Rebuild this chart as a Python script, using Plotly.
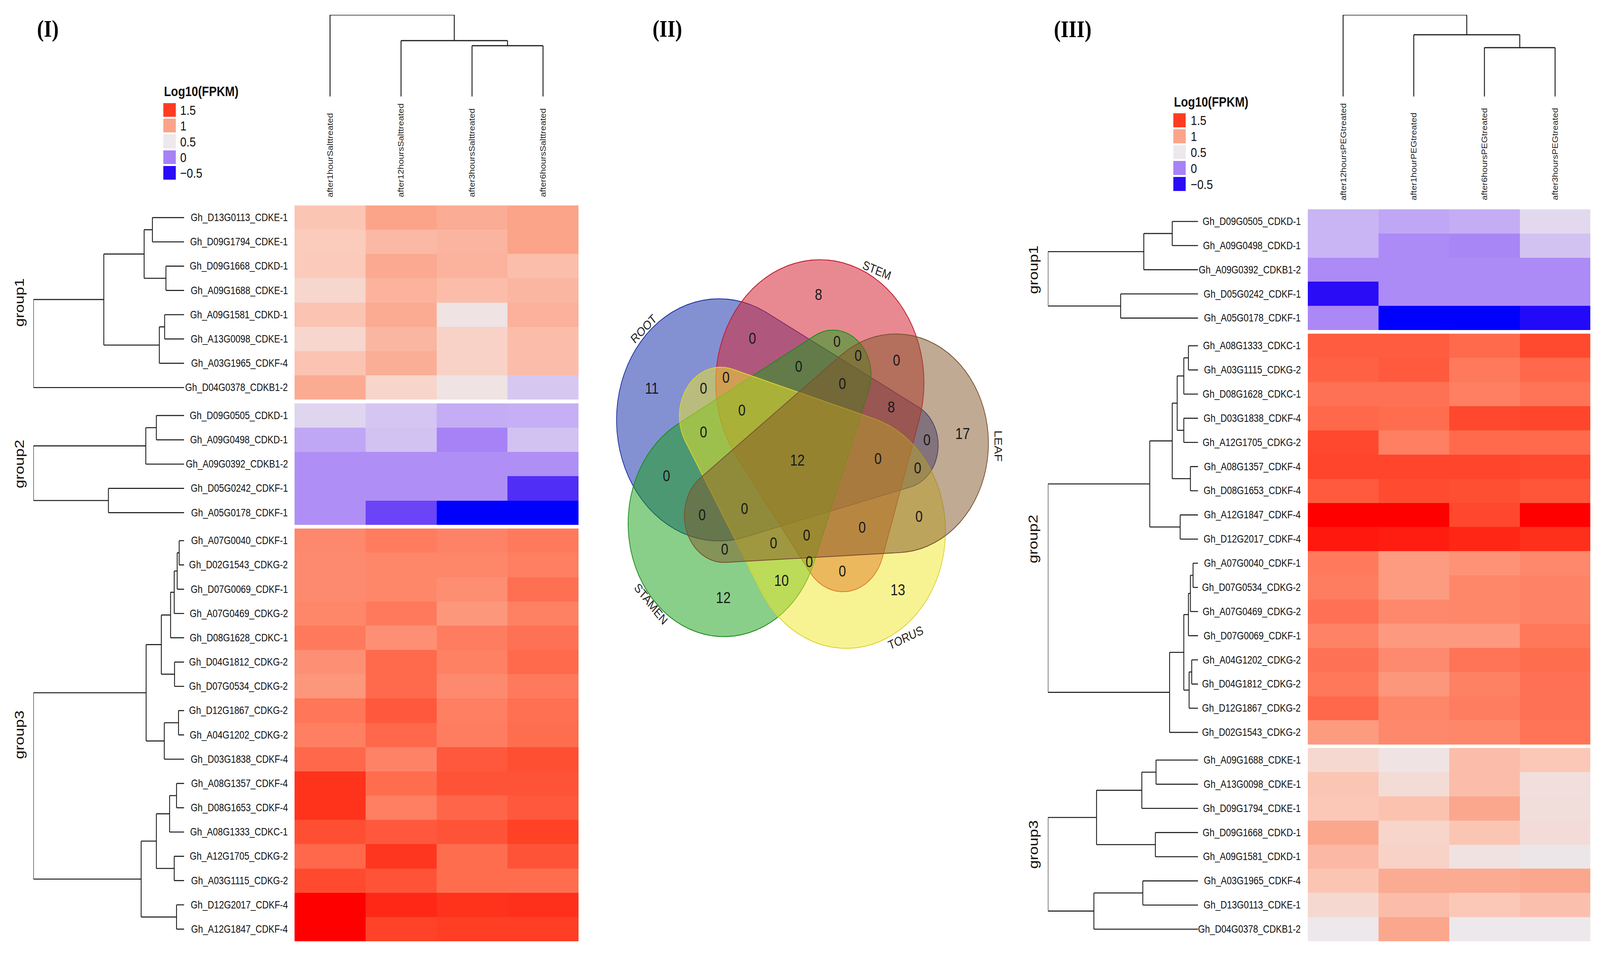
import numpy as np
import plotly.graph_objects as go

W, H = 4840, 2440

# ======================= DATA =======================
salt_columns = ["after1hourSalttreated", "after12hoursSalttreated",
                "after3hoursSalttreated", "after6hoursSalttreated"]
salt_genes_g1 = ["Gh_D13G0113_CDKE-1", "Gh_D09G1794_CDKE-1", "Gh_D09G1668_CDKD-1",
                 "Gh_A09G1688_CDKE-1", "Gh_A09G1581_CDKD-1", "Gh_A13G0098_CDKE-1",
                 "Gh_A03G1965_CDKF-4", "Gh_D04G0378_CDKB1-2"]
salt_genes_g2 = ["Gh_D09G0505_CDKD-1", "Gh_A09G0498_CDKD-1", "Gh_A09G0392_CDKB1-2",
                 "Gh_D05G0242_CDKF-1", "Gh_A05G0178_CDKF-1"]
salt_genes_g3 = ["Gh_A07G0040_CDKF-1", "Gh_D02G1543_CDKG-2", "Gh_D07G0069_CDKF-1",
                 "Gh_A07G0469_CDKG-2", "Gh_D08G1628_CDKC-1", "Gh_D04G1812_CDKG-2",
                 "Gh_D07G0534_CDKG-2", "Gh_D12G1867_CDKG-2", "Gh_A04G1202_CDKG-2",
                 "Gh_D03G1838_CDKF-4", "Gh_A08G1357_CDKF-4", "Gh_D08G1653_CDKF-4",
                 "Gh_A08G1333_CDKC-1", "Gh_A12G1705_CDKG-2", "Gh_A03G1115_CDKG-2",
                 "Gh_D12G2017_CDKF-4", "Gh_A12G1847_CDKF-4"]
salt_values_g1 = [[0.80, 1.00, 0.95, 1.00], [0.76, 0.87, 0.90, 1.00], [0.77, 0.97, 0.91, 0.84],
                  [0.67, 0.91, 0.85, 0.89], [0.81, 0.96, 0.55, 0.92], [0.67, 0.89, 0.70, 0.85],
                  [0.81, 0.94, 0.70, 0.85], [0.96, 0.68, 0.55, 0.33]]
salt_values_g2 = [[0.40, 0.32, 0.20, 0.21], [0.17, 0.30, 0.00, 0.30], [0.06, 0.06, 0.06, 0.06],
                  [0.06, 0.06, 0.06, -0.35], [0.06, -0.25, -0.60, -0.60]]
salt_values_g3 = [[1.15, 1.22, 1.18, 1.23], [1.14, 1.16, 1.16, 1.20], [1.14, 1.16, 1.12, 1.28],
                  [1.16, 1.23, 1.07, 1.19], [1.23, 1.11, 1.21, 1.27], [1.11, 1.30, 1.19, 1.30],
                  [1.07, 1.30, 1.14, 1.23], [1.25, 1.38, 1.20, 1.28], [1.20, 1.31, 1.21, 1.29],
                  [1.31, 1.18, 1.38, 1.42], [1.55, 1.29, 1.40, 1.40], [1.55, 1.20, 1.32, 1.38],
                  [1.42, 1.38, 1.40, 1.48], [1.31, 1.53, 1.29, 1.40], [1.44, 1.40, 1.29, 1.29],
                  [1.80, 1.60, 1.55, 1.56], [1.80, 1.47, 1.49, 1.49]]
# dendrogram merge heights: [height, left, right]; leaves = row index within group
salt_tree_g1 = [456, [243, [121, [96, 0, 1], [55, 2, 3]], [75, [59, 4, 5], 6]], 7]
salt_tree_g2 = [456, [116, [84, 0, 1], 2], [229, 3, 4]]
salt_tree_g3 = [456, [115, [69, [41, [30, [21, [15, 0, 1], 2], 3], 4], [29, 5, 6]],
                      [60, [17, 7, 8], 9]],
                [130, [84, [44, [23, 10, 11], 12], [30, 13, 14]], [23, 15, 16]]]
salt_col_tree = [209, 0, [143, 1, [130, 2, 3]]]

peg_columns = ["after12hoursPEGtreated", "after1hourPEGtreated",
               "after6hoursPEGtreated", "after3hoursPEGtreated"]
peg_genes_g1 = ["Gh_D09G0505_CDKD-1", "Gh_A09G0498_CDKD-1", "Gh_A09G0392_CDKB1-2",
                "Gh_D05G0242_CDKF-1", "Gh_A05G0178_CDKF-1"]
peg_genes_g2 = ["Gh_A08G1333_CDKC-1", "Gh_A03G1115_CDKG-2", "Gh_D08G1628_CDKC-1",
                "Gh_D03G1838_CDKF-4", "Gh_A12G1705_CDKG-2", "Gh_A08G1357_CDKF-4",
                "Gh_D08G1653_CDKF-4", "Gh_A12G1847_CDKF-4", "Gh_D12G2017_CDKF-4",
                "Gh_A07G0040_CDKF-1", "Gh_D07G0534_CDKG-2", "Gh_A07G0469_CDKG-2",
                "Gh_D07G0069_CDKF-1", "Gh_A04G1202_CDKG-2", "Gh_D04G1812_CDKG-2",
                "Gh_D12G1867_CDKG-2", "Gh_D02G1543_CDKG-2"]
peg_genes_g3 = ["Gh_A09G1688_CDKE-1", "Gh_A13G0098_CDKE-1", "Gh_D09G1794_CDKE-1",
                "Gh_D09G1668_CDKD-1", "Gh_A09G1581_CDKD-1", "Gh_A03G1965_CDKF-4",
                "Gh_D13G0113_CDKE-1", "Gh_D04G0378_CDKB1-2"]
peg_values_g1 = [[0.23, 0.17, 0.20, 0.42], [0.23, 0.04, 0.02, 0.30], [0.04, 0.04, 0.04, 0.04],
                 [-0.50, 0.04, 0.04, 0.04], [0.03, -0.60, -0.60, -0.52]]
peg_values_g2 = [[1.36, 1.36, 1.30, 1.44], [1.34, 1.37, 1.23, 1.31], [1.27, 1.27, 1.20, 1.26],
                 [1.31, 1.29, 1.45, 1.46], [1.45, 1.20, 1.30, 1.30], [1.46, 1.46, 1.46, 1.45],
                 [1.37, 1.43, 1.42, 1.39], [1.80, 1.80, 1.45, 1.80], [1.68, 1.66, 1.61, 1.56],
                 [1.23, 1.05, 1.10, 1.15], [1.21, 1.05, 1.16, 1.18], [1.27, 1.15, 1.16, 1.18],
                 [1.18, 1.06, 1.06, 1.24], [1.27, 1.14, 1.26, 1.29], [1.24, 1.07, 1.19, 1.27],
                 [1.31, 1.16, 1.21, 1.27], [1.05, 1.15, 1.16, 1.26]]
peg_values_g3 = [[0.65, 0.55, 0.85, 0.78], [0.80, 0.62, 0.85, 0.58], [0.78, 0.82, 0.98, 0.59],
                 [0.98, 0.68, 0.80, 0.61], [0.87, 0.70, 0.56, 0.52], [0.80, 0.96, 0.96, 0.98],
                 [0.65, 0.85, 0.78, 0.83], [0.50, 0.98, 0.50, 0.50]]
peg_tree_g1 = [454, [164, [78, 0, 1], 2], [234, 3, 4]]
peg_tree_g2 = [454, [146, [78, [63, [43, [29, 0, 1], 2], [43, 3, 4]], [23, 5, 6]], [54, 7, 8]],
               [86, [43, [29, [23, [15, 9, 10], 11], 12], [27, [19, 13, 14], 15]], 16]]
peg_tree_g3 = [454, [307, [170, [127, 0, 1], 2], [129, 3, 4]], [315, [167, 5, 6], 7]]
peg_col_tree = [209, 0, [158, 1, [125, 2, 3]]]

group_names = ["group1", "group2", "group3"]
legend_title = "Log10(FPKM)"
legend_values = [1.5, 1.0, 0.5, 0.0, -0.5]
legend_labels = ["1.5", "1", "0.5", "0", "\u22120.5"]

venn_sets = ["STEM", "ROOT", "STAMEN", "TORUS", "LEAF"]
venn_unique = [8, 11, 12, 13, 17]
venn_multi = {("STEM", "ROOT", "STAMEN", "TORUS", "LEAF"): 12,
              ("STEM", "ROOT", "LEAF"): 8,
              ("STAMEN", "TORUS"): 10}

# ======================= STYLE / LAYOUT =======================
FONT = "Liberation Sans, Arial, Helvetica, sans-serif"
SERIF = "Liberation Serif, Times New Roman, serif"
colorscale_stops = [(-0.6, "#0000FF"), (-0.5, "#2A0CF6"), (-0.25, "#6A44F6"), (0.0, "#A682F6"),
                    (0.25, "#CCB8F4"), (0.5, "#ECE8EC"), (0.75, "#FBCDBE"), (1.0, "#FBA48A"),
                    (1.25, "#FF7658"), (1.5, "#FF3C22"), (1.8, "#FF0000")]
ZMIN, ZMAX = -0.6, 1.8
COLORSCALE = [[(v - ZMIN) / (ZMAX - ZMIN), c] for v, c in colorscale_stops]
LINE_COL = "#1c1c1c"

fig = go.Figure()
layout_axes = {}
annotations = []
axis_counter = [0]


def new_axes(xdom_px, ydom_px, xrange, yrange):
    axis_counter[0] += 1
    i = axis_counter[0]
    sx = "" if i == 1 else str(i)
    layout_axes["xaxis" + sx] = dict(domain=[xdom_px[0] / W, xdom_px[1] / W], range=xrange,
                                     visible=False, fixedrange=True, anchor="y" + sx)
    layout_axes["yaxis" + sx] = dict(domain=[1 - ydom_px[1] / H, 1 - ydom_px[0] / H], range=yrange,
                                     visible=False, fixedrange=True, anchor="x" + sx)
    return "x" + sx, "y" + sx


def tree_segments(node, leaf_pos):
    if isinstance(node, int):
        return 0.0, leaf_pos[node], []
    h, l, r = node
    hl, pl, sl = tree_segments(l, leaf_pos)
    hr, pr, sr = tree_segments(r, leaf_pos)
    segs = sl + sr + [((hl, pl), (h, pl)), ((hr, pr), (h, pr)), ((h, pl), (h, pr))]
    return h, (pl + pr) / 2.0, segs


def segs_to_xy(segs, swap=False):
    xs, ys = [], []
    for (h0, p0), (h1, p1) in segs:
        if swap:
            xs += [p0, p1, None]; ys += [h0, h1, None]
        else:
            xs += [h0, h1, None]; ys += [p0, p1, None]
    return xs, ys


def panel(cfg):
    genes = cfg["genes"]; values = cfg["values"]; trees = cfg["trees"]
    nrows = sum(len(g) for g in genes)
    gap = cfg["gap_px"] / cfg["row_px"]
    positions = []
    idx = 0
    for gi, g in enumerate(genes):
        positions.append([idx + j + gi * gap for j in range(len(g))])
        idx += len(g)
    ymax = nrows - 0.5 + (len(genes) - 1) * gap
    yr = [ymax, -0.5]
    xa, ya = new_axes(cfg["hm_x"], cfg["hm_y"], [-0.5, 3.5], yr)
    for gi in range(len(genes)):
        fig.add_trace(go.Heatmap(z=values[gi], x=[0, 1, 2, 3], y=positions[gi], colorscale=COLORSCALE,
                                 zmin=ZMIN, zmax=ZMAX, showscale=False, xaxis=xa, yaxis=ya,
                                 hoverinfo="skip"))
        for j, name in enumerate(genes[gi]):
            annotations.append(dict(text=name, x=cfg["label_right"] / W, xref="paper", xanchor="right",
                                    y=positions[gi][j], yref=ya, yanchor="middle", showarrow=False,
                                    font=dict(family=FONT, size=27, color="#111111")))
        gy = (positions[gi][0] + positions[gi][-1]) / 2.0
        annotations.append(dict(text=group_names[gi], x=cfg["group_x"] / W, xref="paper", xanchor="center",
                                y=gy, yref=ya, yanchor="middle", textangle=-90, showarrow=False,
                                font=dict(family=FONT, size=40, color="#111111")))
    for c, name in enumerate(cfg["columns"]):
        annotations.append(dict(text=name, x=c, xref=xa, xanchor="center", y=1 - cfg["col_label_bottom"] / H,
                                yref="paper", yanchor="bottom", textangle=-90, showarrow=False,
                                font=dict(family=FONT, size=23, color="#222222")))
    root_h = max(t[0] for t in trees)
    xa2, ya2 = new_axes(cfg["rd_x"], cfg["hm_y"], [root_h, 0], yr)
    xs, ys = [], []
    for gi, t in enumerate(trees):
        _, _, segs = tree_segments(t, positions[gi])
        a, b = segs_to_xy(segs)
        xs += a; ys += b
    fig.add_trace(go.Scatter(x=xs, y=ys, mode="lines", line=dict(color=LINE_COL, width=2.6),
                             xaxis=xa2, yaxis=ya2, hoverinfo="skip", showlegend=False))
    ct = cfg["col_tree"]
    xa3, ya3 = new_axes(cfg["hm_x"], cfg["cd_y"], [-0.5, 3.5], [0, ct[0]])
    _, _, segs = tree_segments(ct, [0, 1, 2, 3])
    a, b = segs_to_xy(segs, swap=True)
    fig.add_trace(go.Scatter(x=a, y=b, mode="lines", line=dict(color=LINE_COL, width=2.8),
                             xaxis=xa3, yaxis=ya3, hoverinfo="skip", showlegend=False))
    lx, ly = cfg["leg_x"], cfg["leg_y"]
    xa4, ya4 = new_axes(lx, ly, [-0.5, 0.5], [len(legend_values) - 0.5, -0.5])
    fig.add_trace(go.Heatmap(z=[[v] for v in legend_values], x=[0], y=list(range(len(legend_values))),
                             colorscale=COLORSCALE, zmin=ZMIN, zmax=ZMAX, showscale=False, ygap=5,
                             xaxis=xa4, yaxis=ya4, hoverinfo="skip"))
    for i, lab in enumerate(legend_labels):
        annotations.append(dict(text=lab, x=(lx[1] + cfg["leg_label_pad"]) / W, xref="paper", xanchor="left",
                                y=i, yref=ya4, yanchor="middle", showarrow=False,
                                font=dict(family=FONT, size=34, color="#111111")))
    annotations.append(dict(text="<b>" + legend_title + "</b>", x=lx[0] / W, xref="paper", xanchor="left",
                            y=1 - cfg["leg_title_y"] / H, yref="paper", yanchor="middle", showarrow=False,
                            font=dict(family=FONT, size=35, color="#111111")))


panel(dict(genes=[salt_genes_g1, salt_genes_g2, salt_genes_g3],
           values=[salt_values_g1, salt_values_g2, salt_values_g3],
           trees=[salt_tree_g1, salt_tree_g2, salt_tree_g3], col_tree=salt_col_tree,
           columns=salt_columns, hm_x=(891, 1750), hm_y=(526, 2410), row_px=62.17, gap_px=9.5,
           rd_x=(101, 557), cd_y=(38, 247), label_right=873, group_x=58, col_label_bottom=507,
           leg_x=(494, 532), leg_y=(262, 463), leg_label_pad=11, leg_title_y=233))

panel(dict(genes=[peg_genes_g1, peg_genes_g2, peg_genes_g3],
           values=[peg_values_g1, peg_values_g2, peg_values_g3],
           trees=[peg_tree_g1, peg_tree_g2, peg_tree_g3], col_tree=peg_col_tree,
           columns=peg_columns, hm_x=(3956, 4811), hm_y=(536, 2410), row_px=61.87, gap_px=9.0,
           rd_x=(3170, 3624), cd_y=(38, 247), label_right=3937, group_x=3125, col_label_bottom=515,
           leg_x=(3549, 3587), leg_y=(288, 492), leg_label_pad=13, leg_title_y=260))

# ======================= VENN (II) =======================
# each set outline = convex hull of a wide disc (labelled end) and a narrow disc
# geometry in page pixels (order as venn_sets)
venn_wide_c = [(2480, 980), (2175, 1075), (2190, 1340), (2560, 1360), (2710, 1135)]
venn_wide_r = [315, 310, 290, 300, 280]
venn_narrow_c = [(2550, 1390), (2728, 1140), (2520, 960), (2180, 1065), (2190, 1320)]
venn_narrow_r = [125, 110, 115, 125, 120]
venn_label_pos = [(2652, 692, 20), (1947, 842, -42), (1969, 1546, 47), (2739, 1633, -22), (3020, 1142, 90)]
venn_fill = ["rgba(214,40,57,0.55)", "rgba(30,55,175,0.55)", "rgba(20,160,20,0.50)",
             "rgba(240,232,40,0.50)", "rgba(130,85,40,0.50)"]
venn_line = ["#c0182a", "#1c2fa0", "#1e8a1e", "#ddd230", "#7a5230"]
draw_order = [1, 0, 2, 3, 4]


def hull(points):
    pts = sorted(set(points))
    def cross(o, a, b):
        return (a[0] - o[0]) * (b[1] - o[1]) - (a[1] - o[1]) * (b[0] - o[0])
    lower, upper = [], []
    for p in pts:
        while len(lower) >= 2 and cross(lower[-2], lower[-1], p) <= 0:
            lower.pop()
        lower.append(p)
    for p in reversed(pts):
        while len(upper) >= 2 and cross(upper[-2], upper[-1], p) <= 0:
            upper.pop()
        upper.append(p)
    return lower[:-1] + upper[:-1]


def cone_outline(k):
    (wx, wy), R = venn_wide_c[k], venn_wide_r[k]
    (nx, ny), r = venn_narrow_c[k], venn_narrow_r[k]
    t = np.linspace(0, 2 * np.pi, 720, endpoint=False)
    pts = [(round(wx + R * np.cos(a), 3), round(wy + R * np.sin(a), 3)) for a in t]
    pts += [(round(nx + r * np.cos(a), 3), round(ny + r * np.sin(a), 3)) for a in t]
    hp = hull(pts)
    hp.append(hp[0])
    return [p[0] for p in hp], [p[1] for p in hp]


def cone_inside(k, X, Y):
    (wx, wy), R = venn_wide_c[k], venn_wide_r[k]
    (nx, ny), r = venn_narrow_c[k], venn_narrow_r[k]
    out = np.zeros(X.shape, dtype=bool)
    for t in np.linspace(0, 1, 141):
        cx = nx + t * (wx - nx); cy = ny + t * (wy - ny)
        rr = r + t * (R - r)
        out |= (X - cx) ** 2 + (Y - cy) ** 2 <= rr * rr
    return out


VEN_X, VEN_Y = (1800, 3150), (550, 1850)
xv, yv = new_axes(VEN_X, VEN_Y, [VEN_X[0], VEN_X[1]], [VEN_Y[1], VEN_Y[0]])
for k in draw_order:
    X, Y = cone_outline(k)
    fig.add_trace(go.Scatter(x=X, y=Y, mode="lines", fill="toself", fillcolor=venn_fill[k],
                             line=dict(color=venn_line[k], width=2.2), xaxis=xv, yaxis=yv,
                             hoverinfo="skip", showlegend=False))

step = 4.0
gx = np.arange(VEN_X[0], VEN_X[1], step)
gy = np.arange(VEN_Y[0], VEN_Y[1], step)
GX, GY = np.meshgrid(gx, gy)
ins = [cone_inside(k, GX, GY) for k in range(5)]


def deepest(mask):
    m = mask.copy()
    last = m
    it = 0
    while m.any():
        last = m
        e = m.copy()
        e[1:, :] &= m[:-1, :]; e[:-1, :] &= m[1:, :]
        e[:, 1:] &= m[:, :-1]; e[:, :-1] &= m[:, 1:]
        if it % 2 == 1:
            e[1:, 1:] &= m[:-1, :-1]; e[:-1, :-1] &= m[1:, 1:]
            e[1:, :-1] &= m[:-1, 1:]; e[:-1, 1:] &= m[1:, :-1]
        e[0, :] = False; e[-1, :] = False; e[:, 0] = False; e[:, -1] = False
        m = e
        it += 1
    ys, xs = np.nonzero(last)
    if len(xs) == 0:
        return None
    cyi, cxi = ys.mean(), xs.mean()
    i = int(np.argmin((ys - cyi) ** 2 + (xs - cxi) ** 2))
    return gx[xs[i]], gy[ys[i]]


tx, ty, tt = [], [], []
for bits in range(1, 32):
    members = tuple(venn_sets[k] for k in range(5) if bits >> k & 1)
    mask = np.ones_like(GX, dtype=bool)
    for k in range(5):
        mask &= ins[k] if (bits >> k & 1) else ~ins[k]
    if mask.sum() < 3:
        continue
    p = deepest(mask)
    if p is None:
        continue
    if len(members) == 1:
        val = venn_unique[venn_sets.index(members[0])]
    else:
        val = venn_multi.get(members, 0)
    tx.append(p[0]); ty.append(p[1]); tt.append(str(val))
fig.add_trace(go.Scatter(x=tx, y=ty, mode="text", text=tt, xaxis=xv, yaxis=yv,
                         textfont=dict(family=FONT, size=40, color="#1a1a1a"),
                         hoverinfo="skip", showlegend=False))

for k, name in enumerate(venn_sets):
    lx, ly, ang = venn_label_pos[k]
    annotations.append(dict(text=name, x=lx, y=ly, xref=xv, yref=yv, xanchor="center", yanchor="middle",
                            textangle=ang, showarrow=False, font=dict(family=FONT, size=32, color="#222222")))

for txt, px, py in [("(I)", 144, 74), ("(II)", 2019, 74), ("(III)", 3245, 75)]:
    annotations.append(dict(text="<b>" + txt + "</b>", x=px / W, y=1 - py / H, xref="paper", yref="paper",
                            xanchor="center", yanchor="middle", showarrow=False,
                            font=dict(family=SERIF, size=62, color="#000000")))

fig.update_layout(width=W, height=H, margin=dict(l=0, r=0, t=0, b=0), paper_bgcolor="white",
                  plot_bgcolor="white", showlegend=False, annotations=annotations, **layout_axes)

# the figure is laid out at 4840x2440; if the browser viewport is smaller, scale the
# drawing so that it exactly fills the viewport.
fit_script = """
(function(){
  var W = %d, H = %d;
  var gd = document.getElementById('{plot_id}');
  var iw = window.innerWidth, ih = window.innerHeight;
  document.documentElement.style.overflow = 'hidden';
  document.body.style.overflow = 'hidden';
  document.body.style.margin = '0';
  var sx = iw / W, sy = ih / H;
  if (!(sx > 0) || sx > 0.999) { sx = 1; }
  if (!(sy > 0) || sy > 0.999) { sy = 1; }
  if (sx !== 1 || sy !== 1) {
    gd.style.transformOrigin = '0 0';
    gd.style.transform = 'scale(' + sx + ',' + sy + ')';
    var wrap = gd.parentElement;
    wrap.style.width = (W * sx) + 'px';
    wrap.style.height = (H * sy) + 'px';
    wrap.style.overflow = 'hidden';
    document.body.style.width = (W * sx) + 'px';
    document.body.style.height = (H * sy) + 'px';
  }
})();
""" % (W, H)
fig.write_html("out.html", post_script=fit_script, config={"displayModeBar": False})
